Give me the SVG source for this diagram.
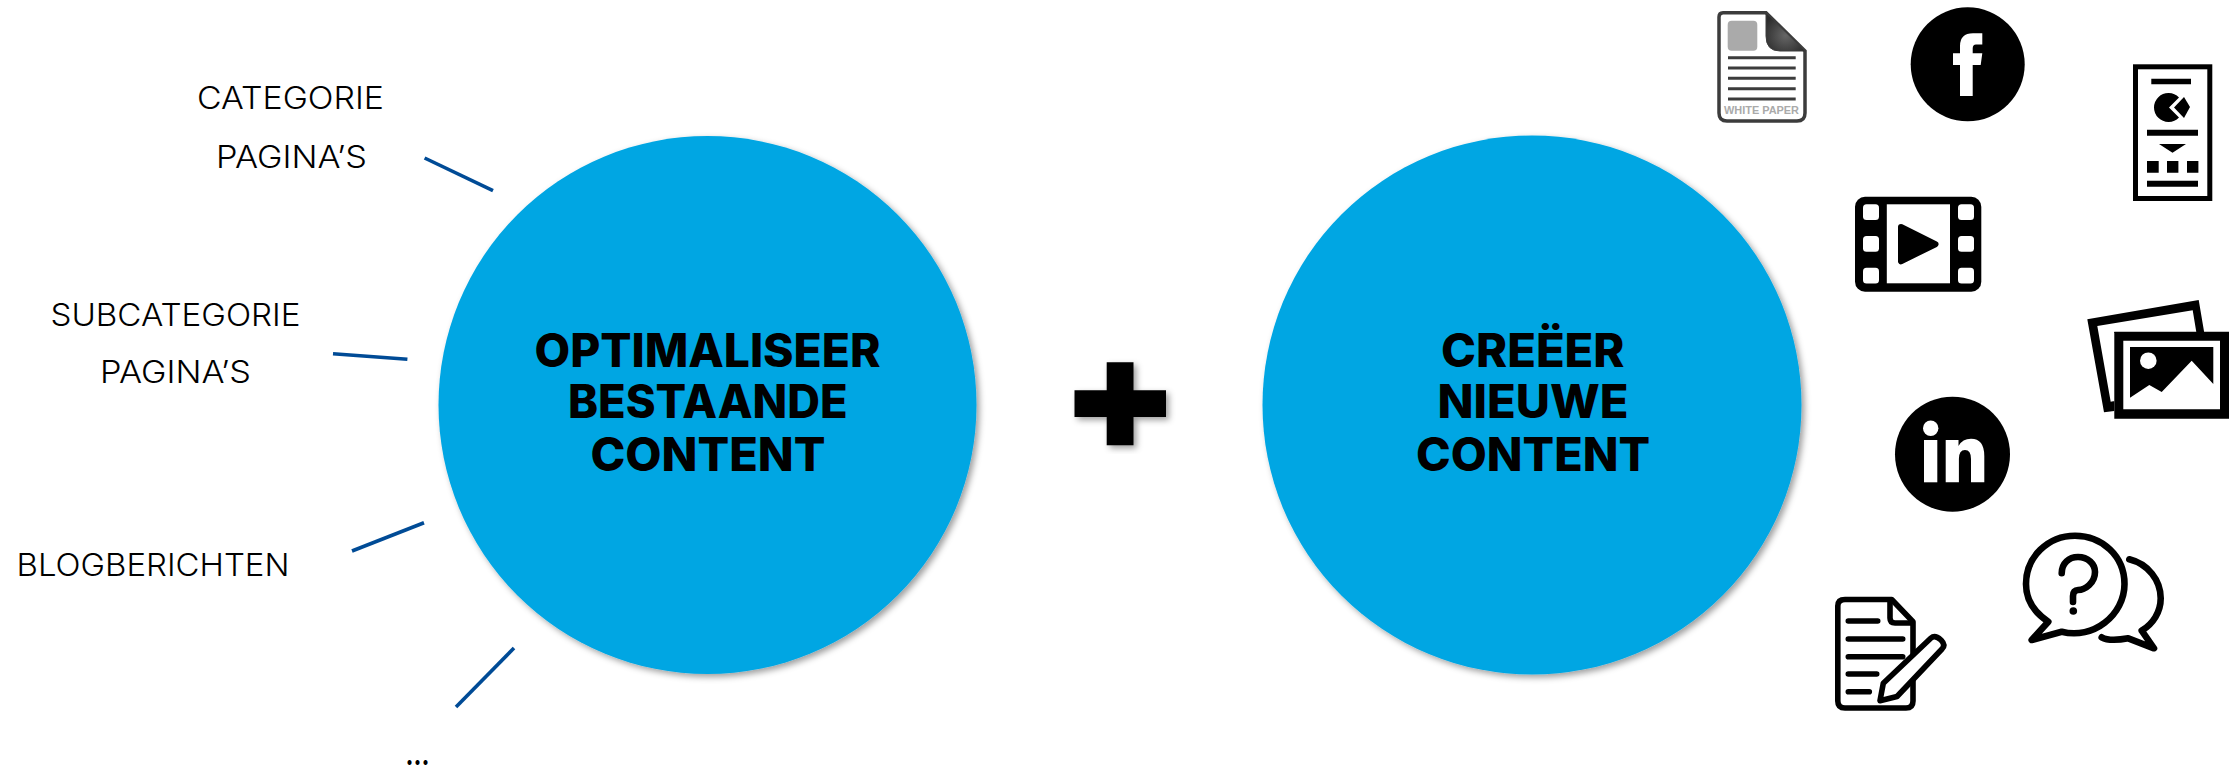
<svg xmlns="http://www.w3.org/2000/svg" width="2239" height="769" viewBox="0 0 2239 769">
<style>
.lbl{font-family:"Inter","Liberation Sans",sans-serif;font-weight:300;font-size:30.5px;fill:#000}
.ttl{font-family:"Inter","Liberation Sans",sans-serif;font-weight:800;font-size:46px;fill:#000}
.conn{stroke:#004b96;stroke-width:3.6;fill:none}
.ln{stroke:#000;stroke-width:5.6;stroke-linecap:round;fill:none}
.q{stroke:#000;stroke-width:6.6;stroke-linecap:round;stroke-linejoin:round;fill:none}
.wp{stroke:#3c3c3c;stroke-width:3;fill:none}
</style>
<defs>
<filter id="sh" x="-10%" y="-10%" width="120%" height="120%"><feDropShadow dx="3" dy="3" stdDeviation="3" flood-color="#000" flood-opacity="0.38"/></filter>
<radialGradient id="wg" cx="50%" cy="60%" r="60%"><stop offset="0" stop-color="#666"/><stop offset="1" stop-color="#2c2c2c"/></radialGradient>
</defs>
<rect width="2239" height="769" fill="#fff"/>
<g id="connectors">
<line class="conn" x1="424.6" y1="158" x2="493" y2="190.7"/>
<line class="conn" x1="333" y1="353.7" x2="407.4" y2="359.3"/>
<line class="conn" x1="352" y1="551" x2="424" y2="522.7"/>
<line class="conn" x1="456" y1="707" x2="514" y2="648"/>
</g>
<g id="label-categorie">
<text class="lbl" x="197" y="109" textLength="187" lengthAdjust="spacingAndGlyphs">CATEGORIE</text>
<text class="lbl" x="216" y="167.7" textLength="151" lengthAdjust="spacingAndGlyphs">PAGINA’S</text>
</g>
<g id="label-subcategorie">
<text class="lbl" x="50.5" y="325.7" textLength="250" lengthAdjust="spacingAndGlyphs">SUBCATEGORIE</text>
<text class="lbl" x="100" y="383.3" textLength="151" lengthAdjust="spacingAndGlyphs">PAGINA’S</text>
</g>
<g id="label-blog"><text class="lbl" x="16.5" y="576" textLength="273" lengthAdjust="spacingAndGlyphs">BLOGBERICHTEN</text></g>
<g id="label-more"><text class="lbl" x="405.5" y="765" textLength="24" lengthAdjust="spacingAndGlyphs" style="font-weight:700">...</text></g>
<g id="circle-optimaliseer">
<circle cx="707.5" cy="405" r="269" fill="#00a6e3" filter="url(#sh)"/>
<text class="ttl"><tspan x="534.5" y="367" textLength="346" lengthAdjust="spacingAndGlyphs">OPTIMALISEER</tspan><tspan x="568" y="417.7" textLength="279.5" lengthAdjust="spacingAndGlyphs">BESTAANDE</tspan><tspan x="590.5" y="471" textLength="235" lengthAdjust="spacingAndGlyphs">CONTENT</tspan></text>
</g>
<g id="plus"><path d="M1106.7 362.3H1133.5V390.3H1166V417H1133.5V445.3H1106.7V417H1074.5V390.3H1106.7Z" fill="#000" filter="url(#sh)"/></g>
<g id="circle-creeer">
<circle cx="1532" cy="405" r="269.5" fill="#00a6e3" filter="url(#sh)"/>
<text class="ttl"><tspan x="1441" y="366.7" textLength="183.5" lengthAdjust="spacingAndGlyphs">CREËER</tspan><tspan x="1437.5" y="417.7" textLength="191" lengthAdjust="spacingAndGlyphs">NIEUWE</tspan><tspan x="1416" y="471" textLength="234" lengthAdjust="spacingAndGlyphs">CONTENT</tspan></text>
</g>
<g id="icon-whitepaper">
<path d="M1723 12.7H1766L1805 51V113Q1805 121 1797 121H1727Q1719 121 1719 113V17Q1719 12.7 1723 12.7Z" fill="#fff" stroke="#3c3c3c" stroke-width="3.5"/>
<path d="M1766 12.7L1805 51H1780Q1766 51 1766 36Z" fill="url(#wg)" stroke="#3c3c3c" stroke-width="1"/>
<rect x="1727.7" y="20.7" width="29.6" height="30" rx="4" fill="#aaa"/>
<path class="wp" d="M1728 57.7H1795.7M1728 68H1795.7M1728 78.3H1795.7M1728 88.7H1795.7M1728 99H1795.7"/>
<text x="1724" y="114" textLength="75" lengthAdjust="spacingAndGlyphs" style="font-family:'Liberation Sans',sans-serif;font-weight:700;font-size:11px;fill:#aaa">WHITE PAPER</text>
</g>
<g id="icon-facebook">
<circle cx="1967.7" cy="64.3" r="57" fill="#000"/>
<path d="M1960 96V65H1953V53.3H1960V46Q1960 33.3 1973 33.3H1982.3V44.5H1976Q1972.7 44.5 1972.7 48.5V53.3H1982.3L1980.7 65H1972.7V96Z" fill="#fff"/>
</g>
<g id="icon-infographic">
<rect x="2135.5" y="66.8" width="74.3" height="131.7" fill="#fff" stroke="#000" stroke-width="5"/>
<path d="M2151.3 78.7H2191V84.3H2151.3ZM2147 129.7H2198V135.7H2147ZM2159 144H2186L2172.5 152.7ZM2147 161H2158.7V172.7H2147ZM2167 161H2178.4V172.7H2167ZM2187 161H2198.4V172.7H2187ZM2147 180.7H2198V186.7H2147Z" fill="#000"/>
<path d="M2179 97.5A14.5 14.5 0 1 0 2179 117.5L2169 107.5Z" fill="#000"/>
<path d="M2184 97L2190 107L2184 118L2174 107.5Z" fill="#000"/>
</g>
<g id="icon-video">
<rect x="1855" y="196.7" width="126.3" height="95" rx="10" fill="#000"/>
<g fill="#fff">
<rect x="1863" y="204.3" width="16" height="15.7" rx="3.5"/><rect x="1863" y="236" width="16" height="15.7" rx="3.5"/><rect x="1863" y="267.7" width="16" height="15.7" rx="3.5"/>
<rect x="1958" y="204.3" width="16" height="15.7" rx="3.5"/><rect x="1958" y="236" width="16" height="15.7" rx="3.5"/><rect x="1958" y="267.7" width="16" height="15.7" rx="3.5"/>
<rect x="1886.8" y="204.3" width="63.2" height="79"/>
</g>
<path d="M1901 227L1935.5 244.2L1901 261.3Z" fill="#000" stroke="#000" stroke-width="6" stroke-linejoin="round"/>
</g>
<g id="icon-photos">
<path fill-rule="evenodd" d="M2087.3 319.3L2198.7 300L2204.3 333H2114.3V411L2104 412.3ZM2097.3 326L2192.7 310.3L2196.3 332H2114.3V401L2110.7 401.7Z" fill="#000"/>
<path fill-rule="evenodd" d="M2114.3 331.7H2229V418.7H2114.3ZM2123.3 340.7V409.3H2220V340.7Z" fill="#000"/>
<path d="M2130 347H2213.3V384L2191.7 360.7L2161.7 392L2149.3 385L2130 397.7Z" fill="#000"/>
<circle cx="2148.3" cy="360.7" r="8.3" fill="#fff"/>
</g>
<g id="icon-linkedin">
<circle cx="1952.5" cy="454.2" r="57.5" fill="#000"/>
<circle cx="1930.7" cy="428.3" r="7.7" fill="#fff"/>
<rect x="1924" y="440" width="13.3" height="42.3" fill="#fff"/>
<path d="M1945.7 482.3V440H1958.5V446Q1962.5 438.8 1971 438.8Q1984.3 438.8 1984.3 456V482.3H1971V459Q1971 450 1965 450Q1958.9 450 1958.9 459V482.3Z" fill="#fff"/>
</g>
<g id="icon-question">
<path class="q" d="M2048.3 621.7L2031.7 640L2061.7 631.7C2093 640 2124.5 615 2124.5 584C2124.5 556 2102 535.7 2075 535.7C2048 535.7 2026 557 2026 584C2026 600 2035 613 2048.3 621.7Z"/>
<path class="q" d="M2129.3 559.3C2148 564 2160.7 580 2160.7 598.3C2160.7 612 2153 624 2141.7 630.7L2154 648.3L2128.3 638.3C2119 640 2108 641 2101.7 637.3"/>
<path class="q" d="M2061.7 573.3C2061.7 563 2069 557 2078 557C2088 557 2095 564 2095 572C2095 583 2085 590 2078 590C2075 590 2073 592 2073 596V602"/>
<circle cx="2073.3" cy="611" r="3.8" fill="#000"/>
</g>
<g id="icon-document">
<path d="M1891.7 599.5H1845Q1837.8 599.5 1837.8 606V701Q1837.8 708 1845 708H1906Q1913 708 1913 701V621.7Z" fill="#fff" stroke="#000" stroke-width="5.6" stroke-linejoin="round"/>
<path d="M1890 601V618Q1890 623 1895 623H1913" fill="none" stroke="#000" stroke-width="5.6"/>
<path class="ln" d="M1848.3 621H1877.7M1848.3 639H1902.7M1848.3 656.7H1902.7M1848.3 674H1876.7M1848.3 691.7H1869.3"/>
<path d="M1880 700.7L1883.3 683.3L1931 638Q1935 634.5 1941 640Q1946 645 1942 649L1897 696.5Z" fill="#fff" stroke="#000" stroke-width="5.6" stroke-linejoin="round"/>
</g>
</svg>
